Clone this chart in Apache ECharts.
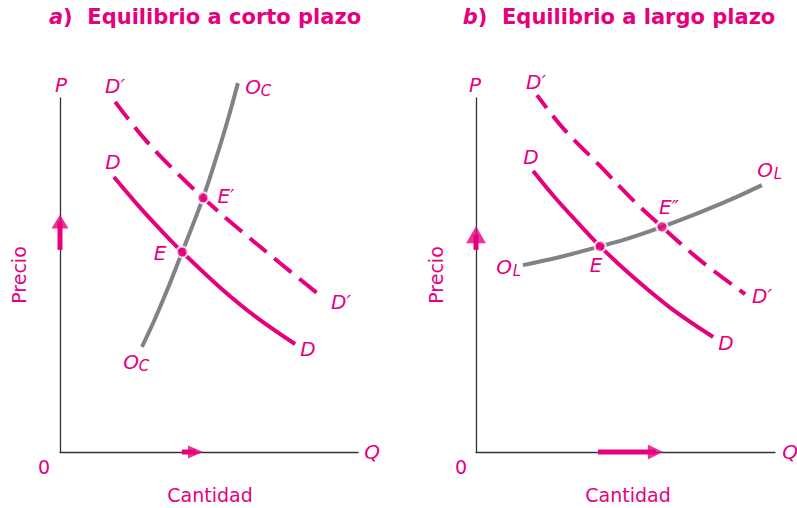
<!DOCTYPE html>
<html>
<head>
<meta charset="utf-8">
<script src="https://cdn.jsdelivr.net/npm/echarts@6/dist/echarts.min.js"></script>
<style>
  html, body { margin: 0; padding: 0; background: #fff; }
  #chart { width: 797px; height: 508px; }
</style>
</head>
<body>
<div id="chart"></div>
<script>
const PINK = '#e6007e';
const GRAY = '#808285';
const AXIS = '#333333';

// panel a) corto plazo  (Q, P) en unidades 0-10
const demandA = [[1.81, 7.77], [2.68, 6.91], [3.36, 6.29], [4.10, 5.65], [5.37, 4.65], [6.54, 3.84], [7.89, 3.05]];
const demandShiftA = [[1.85, 9.89], [2.75, 8.93], [3.62, 8.14], [4.80, 7.18], [6.04, 6.27], [7.38, 5.34], [8.83, 4.35]];
const supplyShortA = [[2.75, 2.97], [3.17, 3.73], [3.60, 4.58], [4.10, 5.65], [4.80, 7.18], [5.22, 8.25], [5.63, 9.38], [5.97, 10.42]];
const equilibriaA = [[4.10, 5.65], [4.80, 7.18]];
// flechas: [inicio del trazo, centro de la punta]
const priceArrowA = [[0, 5.71], [0, 6.51]];
const qtyArrowA = [[4.09, 0], [4.55, 0]];

// panel b) largo plazo
const demandB = [[1.91, 7.94], [2.64, 7.19], [3.38, 6.50], [4.15, 5.81], [5.15, 5.02], [6.49, 4.08], [7.93, 3.25]];
const demandShiftB = [[2.04, 10.08], [2.91, 9.15], [4.15, 8.08], [5.15, 7.20], [6.22, 6.36], [7.49, 5.42], [9.00, 4.46]];
const supplyLongB = [[1.57, 5.28], [2.81, 5.51], [4.15, 5.81], [5.15, 6.05], [6.22, 6.36], [7.49, 6.77], [8.49, 7.12], [9.56, 7.54]];
const equilibriaB = [[4.15, 5.81], [6.22, 6.36]];
const priceArrowB = [[0, 5.71], [0, 6.14]];
const qtyArrowB = [[4.08, 0], [6.00, 0]];

const chart = echarts.init(document.getElementById('chart'), null, { renderer: 'svg' });

function axis(gi) {
  return {
    type: 'value', gridIndex: gi, min: 0, max: 10,
    axisLine: { show: true, lineStyle: { color: AXIS, width: 1.3 } },
    axisTick: { show: false }, axisLabel: { show: false }, splitLine: { show: false }
  };
}
function curve(gi, data, color, dash, offset) {
  return {
    type: 'line', xAxisIndex: gi, yAxisIndex: gi, data: data,
    smooth: 0.35, showSymbol: false, clip: false, silent: true, z: 3,
    lineStyle: { color: color, width: 4, type: dash || 'solid', dashOffset: offset || 0, cap: 'butt' }
  };
}
function dots(gi, data) {
  return {
    type: 'scatter', xAxisIndex: gi, yAxisIndex: gi, data: data, clip: false, z: 5,
    symbolSize: 11, itemStyle: { color: PINK, borderColor: '#fff', borderWidth: 2 }
  };
}
function arrow(gi, data, size, rot) {
  return [
    {
      type: 'line', xAxisIndex: gi, yAxisIndex: gi, data: data, clip: false, z: 4,
      showSymbol: false, silent: true, lineStyle: { color: PINK, width: 5, cap: 'butt' }
    },
    {
      type: 'scatter', xAxisIndex: gi, yAxisIndex: gi, data: [data[1]], clip: false, z: 4,
      symbol: 'triangle', symbolSize: size, symbolRotate: rot, silent: true,
      itemStyle: { color: PINK }
    }
  ];
}

function t(x, y, text, opts) {
  return {
    type: 'text', x: x, y: y, silent: true,
    style: Object.assign({
      text: text, fill: PINK, fontFamily: 'DejaVu Sans', fontSize: 20,
      fontStyle: 'italic', align: 'center', verticalAlign: 'middle'
    }, opts || {})
  };
}
function sub(x, y, main, s) {
  return [t(x, y, main), t(x + 13, y + 4, s, { fontSize: 15 })];
}
function title(x, letter, rest) {
  return {
    type: 'text', x: x, y: 17, silent: true,
    style: {
      text: '{i|' + letter + '}{n|)  ' + rest + '}',
      align: 'center', verticalAlign: 'middle',
      rich: {
        i: { fill: PINK, fontFamily: 'DejaVu Sans', fontSize: 21, fontWeight: 'bold', fontStyle: 'italic' },
        n: { fill: PINK, fontFamily: 'DejaVu Sans', fontSize: 21, fontWeight: 'bold' }
      }
    }
  };
}
const plain = { fontStyle: 'normal', fontSize: 19 };

const graphics = [
  title(205, 'a', 'Equilibrio a corto plazo'),
  title(619, 'b', 'Equilibrio a largo plazo'),
  // panel a
  t(61, 85, 'P'), t(115, 86, 'D\u2032'), t(113, 162, 'D'),
  t(226, 196, 'E\u2032'), t(160, 253, 'E'),
  t(341, 302, 'D\u2032'), t(308, 349, 'D'),
  t(372, 452, 'Q'),
  t(44, 467, '0', plain),
  t(210, 495, 'Cantidad', plain),
  Object.assign(t(19, 275, 'Precio', plain), { rotation: Math.PI / 2 }),
  ...sub(253, 87, 'O', 'C'),
  ...sub(131, 362, 'O', 'C'),
  // panel b
  t(475, 85, 'P'), t(536, 82, 'D\u2032'), t(531, 157, 'D'),
  t(669, 207, 'E\u2033'), t(596, 265, 'E'),
  t(762, 296, 'D\u2032'), t(726, 343, 'D'),
  t(790, 452, 'Q'),
  t(461, 467, '0', plain),
  t(628, 495, 'Cantidad', plain),
  Object.assign(t(436, 275, 'Precio', plain), { rotation: Math.PI / 2 }),
  ...sub(765, 170, 'O', 'L'),
  ...sub(504, 267, 'O', 'L')
];

chart.setOption({
  animation: false,
  backgroundColor: '#fff',
  grid: [
    { left: 60, top: 98, width: 298, height: 354 },
    { left: 476, top: 98, width: 299, height: 354 }
  ],
  xAxis: [axis(0), axis(1)],
  yAxis: [axis(0), axis(1)],
  graphic: graphics,
  series: [
    curve(0, supplyShortA, GRAY),
    curve(0, demandA, PINK),
    curve(0, demandShiftA, PINK, [22, 10]),
    dots(0, equilibriaA),
    ...arrow(0, priceArrowA, [17, 14], 0),
    ...arrow(0, qtyArrowA, [13, 15], -90),
    curve(1, supplyLongB, GRAY),
    curve(1, demandB, PINK),
    curve(1, demandShiftB, PINK, [22, 10], 6),
    dots(1, equilibriaB),
    ...arrow(1, priceArrowB, [20, 17], 0),
    ...arrow(1, qtyArrowB, [15, 15], -90)
  ]
});
</script>
</body>
</html>
